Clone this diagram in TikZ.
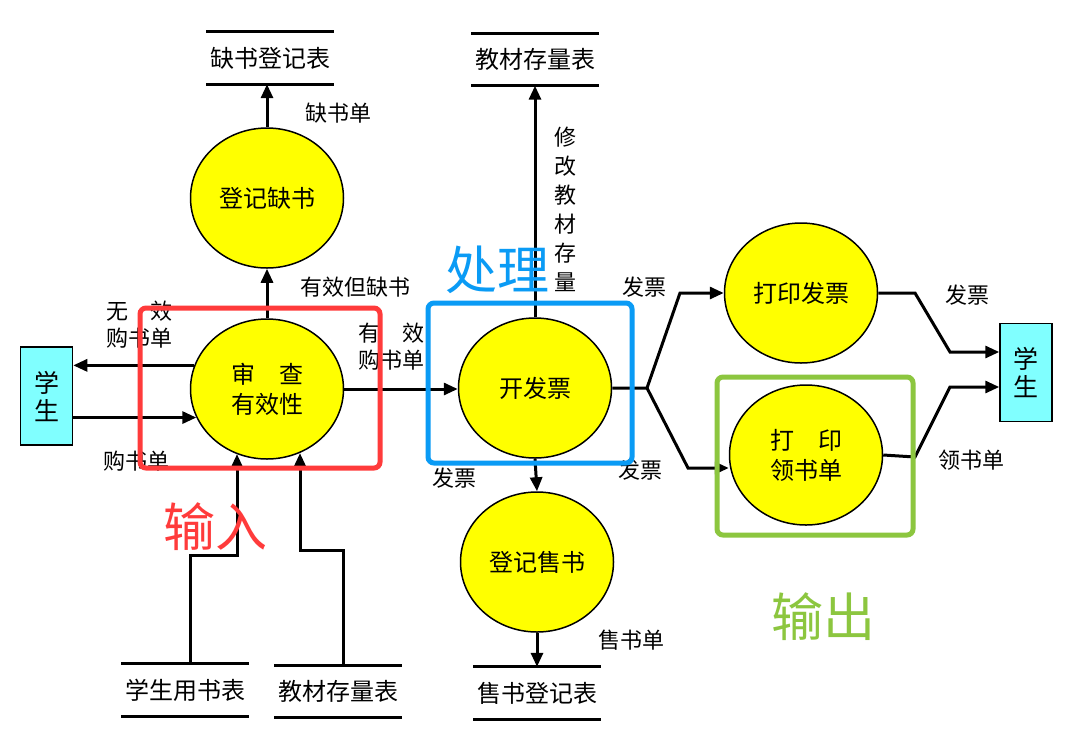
\documentclass[tikz,border=0pt]{standalone}
\usepackage{fontspec}
\newfontfamily\cjk{Noto Sans CJK SC}
\usetikzlibrary{arrows.meta,calc,shapes.geometric,positioning}
\definecolor{dfInk}{HTML}{000000}
\definecolor{dfYellow}{HTML}{FFFF00}
\definecolor{dfCyan}{HTML}{80FFFF}
\definecolor{dfRed}{HTML}{FF3B3B}
\definecolor{dfBlue}{HTML}{0A9BF5}
\definecolor{dfGreen}{HTML}{8CC63F}
\tikzset{
  df canvas/.style={fill=white},
  df process/.style={
    ellipse, draw=dfInk, line width=1.5pt, fill=dfYellow,
    minimum width=153pt, minimum height=140pt, inner sep=0pt,
    align=center, font=\cjk\fontsize{24}{30}\selectfont
  },
  df entity/.style={
    rectangle, draw=dfInk, line width=1.5pt, fill=dfCyan,
    minimum width=52pt, minimum height=98pt, inner sep=0pt,
    align=center, font=\cjk\fontsize{25}{28}\selectfont
  },
  df store/.style={
    minimum width=127pt, minimum height=52pt, inner sep=0pt,
    font=\cjk\fontsize{24}{28}\selectfont
  },
  df bar/.style={draw=dfInk, line width=3pt},
  df flow/.style={
    draw=dfInk,
    line width=3pt,
    -{Triangle[length=14pt,width=12pt]}
  },
  df label/.style={align=center, font=\cjk\fontsize{22}{27}\selectfont, text=dfInk},
  df group/.style={line width=5pt, rounded corners=6pt},
  df tag/.style={font=\cjk\fontsize{52}{56}\selectfont}
}
\begin{document}
\begin{tikzpicture}[x=1pt,y=-1pt]
  \path[df canvas] (0,0) rectangle (1068,732);
  \useasboundingbox (0,0) rectangle (1068,732);

  \node[df entity] (stuL) at (46.5,396) {学\\生};
  \node[df entity] (stuR) at (1026,372.5) {学\\生};

  \node[df process] (check) at (267,389) {审\hspace{1em}查\\有效性};
  \node[df process] (lackReg) at (267,198) {登记缺书};
  \node[df process] (invoice) at (535,388) {开发票};
  \node[df process] (saleReg) at (537,562) {登记售书};
  \node[df process] (printInv) at (801,293) {打印发票};
  \node[df process] (printSlip) at (806,455) {打\hspace{1em}印\\领书单};

  \node[df store] (lackTab) at (270,58) {缺书登记表};
  \node[df store] (stockTop) at (535,59.5) {教材存量表};
  \node[df store] (saleTab) at (537,693) {售书登记表};
  \node[df store] (useTab) at (185,690) {学生用书表};
  \node[df store] (stockBot) at (338,691.5) {教材存量表};
  \foreach \s in {lackTab,stockTop,saleTab,useTab,stockBot}
    \draw[df bar] (\s.north west) -- (\s.north east) (\s.south west) -- (\s.south east);

  \coordinate (split) at (647,388);
  \coordinate (upBend) at (680,293);
  \coordinate (downBend) at (688,468);
  \coordinate (invBend) at (915,293);
  \coordinate (invIn) at (950,352);
  \coordinate (slipBend) at (915,457);
  \coordinate (slipIn) at (950,387);
  \coordinate (useBend) at (190,555);
  \coordinate (useUp) at (237,555);
  \coordinate (stockBend) at (343,550);
  \coordinate (stockUp) at (300,550);

  \draw[df flow] (check.162) -- (check.162 -| stuL.east);
  \draw[df flow] (stuL.east |- check.202) -- (check.202);
  \draw[df flow] (check.east) -- (check.east -| invoice.west);
  \draw[df flow] (check.north) -- (lackReg.south);
  \draw[df flow] (lackReg.north) -- (lackReg.north |- lackTab.south);
  \draw[df flow] (invoice.north) -- (stockTop.south);
  \draw[df flow] (invoice.south) -- (saleReg.north);
  \draw[df flow] (saleReg.south) -- (saleTab.north);
  \draw[df flow] (invoice.east) -- (split) -- (upBend) -- (printInv.west);
  \draw[df flow] (split) -- (downBend) -- (downBend -| printSlip.west);
  \draw[df flow] (printInv.east) -- (invBend) -- (invIn) -- (invIn -| stuR.west);
  \draw[df flow] (printSlip.east) -- (slipBend) -- (slipIn) -- (slipIn -| stuR.west);
  \draw[df flow] (useTab.north -| useBend) -- (useBend) -- (useUp) -- (useUp |- check.245);
  \draw[df flow] (stockBot.north -| stockBend) -- (stockBend) -- (stockUp) -- (stockUp |- check.297);

  \node[df label] (lInvalid) at (139,325) {无\hspace{1em}效\\购书单};
  \node[df label] (lOrder) at (136,461) {购书单};
  \node[df label] (lValid) at (391,347) {有\hspace{1em}效\\购书单};
  \node[df label] (lLack) at (355,287) {有效但缺书};
  \node[df label] (lLackSlip) at (338,113) {缺书单};
  \node[df label, font=\cjk\fontsize{22}{29}\selectfont] (lStock) at (565,209) {修\\改\\教\\材\\存\\量};
  \node[df label] (lInvUp) at (644,287) {发票};
  \node[df label] (lInvDown) at (640,470) {发票};
  \node[df label] (lInvSale) at (454,478) {发票};
  \node[df label] (lSaleSlip) at (631,640) {售书单};
  \node[df label] (lInvOut) at (967,295) {发票};
  \node[df label] (lSlipOut) at (971,460) {领书单};

  \draw[df group, draw=dfRed] (140,308) rectangle (380,468);
  \draw[df group, draw=dfBlue] (428,303) rectangle (632,463);
  \draw[df group, draw=dfGreen] (717,377) rectangle (913,535);
  \node[df tag, text=dfRed] (tIn) at (215,527) {输入};
  \node[df tag, text=dfBlue] (tProc) at (497,270) {处理};
  \node[df tag, text=dfGreen] (tOut) at (823,617) {输出};
\end{tikzpicture}
\end{document}
